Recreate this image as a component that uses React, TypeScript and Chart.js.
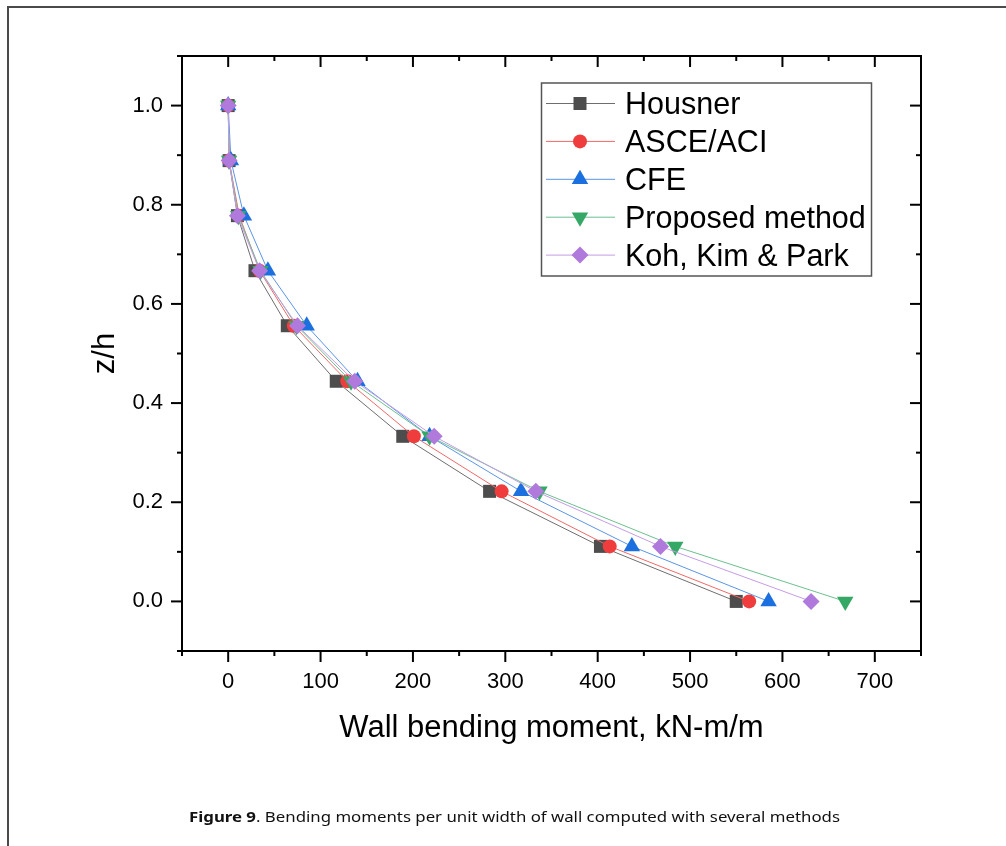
import React, { useEffect, useRef } from 'react';
import { Chart, registerables } from 'chart.js';

Chart.register(...registerables);

// ---- data ----
const zLevels = [1.0, 0.889, 0.778, 0.667, 0.556, 0.444, 0.333, 0.222, 0.111, 0.0];
const housner = [0, 1, 10, 29, 64, 117, 189, 283, 403, 550];
const asceAci = [0, 1, 12, 34, 71, 129, 201, 296, 413, 564];
const cfe = [0, 3, 17, 43, 85, 140, 218, 317, 437, 585];
const proposed = [0, 1, 11, 35, 74, 133, 218, 337, 484, 668];
const kohKimPark = [0, 1, 10, 34, 75, 137, 223, 333, 468, 631];

const seriesNames = ['Housner', 'ASCE/ACI', 'CFE', 'Proposed method', 'Koh, Kim & Park'];
const xTickLabels = ['0', '100', '200', '300', '400', '500', '600', '700'];
const yTickLabels = ['0.0', '0.2', '0.4', '0.6', '0.8', '1.0'];

const xTitle = 'Wall bending moment, kN-m/m';
const yTitle = 'z/h';

const FONT = "'Liberation Sans', Arial, Helvetica, sans-serif";

type Style = {
  pointColor: string;
  lineColor: string;
  pointStyle: string;
  radius: number;
  rotation: number;
};

const styles: Style[] = [
  { pointColor: '#4d4d4d', lineColor: '#6e6e6e', pointStyle: 'rect', radius: 9.2, rotation: 0 },
  { pointColor: '#ef3d3d', lineColor: '#f06868', pointStyle: 'circle', radius: 7, rotation: 0 },
  { pointColor: '#1b6fde', lineColor: '#5b94e6', pointStyle: 'triangle', radius: 9.5, rotation: 0 },
  { pointColor: '#36a866', lineColor: '#6cc08e', pointStyle: 'triangle', radius: 9.5, rotation: 180 },
  { pointColor: '#b079dc', lineColor: '#c59ce6', pointStyle: 'rectRot', radius: 8.5, rotation: 0 },
];

const seriesValues = [housner, asceAci, cfe, proposed, kohKimPark];

function drawMarker(ctx: CanvasRenderingContext2D, s: Style, x: number, y: number) {
  const r = s.radius;
  ctx.beginPath();
  if (s.pointStyle === 'rect') {
    const h = r * Math.SQRT1_2;
    ctx.rect(x - h, y - h, 2 * h, 2 * h);
  } else if (s.pointStyle === 'circle') {
    ctx.arc(x, y, r, 0, Math.PI * 2);
  } else if (s.pointStyle === 'triangle') {
    const rot = (s.rotation * Math.PI) / 180;
    for (let k = 0; k < 3; k++) {
      const a = rot - Math.PI / 2 + (k * 2 * Math.PI) / 3;
      const px = x + Math.cos(a) * r;
      const py = y + Math.sin(a) * r;
      if (k === 0) ctx.moveTo(px, py);
      else ctx.lineTo(px, py);
    }
  } else if (s.pointStyle === 'rectRot') {
    ctx.moveTo(x, y - r);
    ctx.lineTo(x + r, y);
    ctx.lineTo(x, y + r);
    ctx.lineTo(x - r, y);
  }
  ctx.closePath();
  ctx.fillStyle = s.pointColor;
  ctx.fill();
}

const framePlugin = {
  id: 'frameAndLegend',
  afterDraw(chart: any) {
    const ctx: CanvasRenderingContext2D = chart.ctx;
    const xs = chart.scales.x;
    const ys = chart.scales.y;
    const { left, right, top, bottom } = chart.chartArea;
    ctx.save();
    ctx.strokeStyle = '#000';
    ctx.lineWidth = 2;
    ctx.lineCap = 'butt';
    ctx.strokeRect(left, top, right - left, bottom - top);
    const line = (x1: number, y1: number, x2: number, y2: number) => {
      ctx.beginPath();
      ctx.moveTo(x1, y1);
      ctx.lineTo(x2, y2);
      ctx.stroke();
    };
    xs.ticks.forEach((t: any) => {
      const px = xs.getPixelForValue(t.value);
      const major = Math.round(t.value) % 100 === 0;
      const len = major ? 11 : 5;
      line(px, bottom, px, bottom + len);
      line(px, top, px, top + len);
    });
    ys.ticks.forEach((t: any) => {
      const py = ys.getPixelForValue(t.value);
      const major = Math.round(t.value * 10) % 2 === 0;
      const len = major ? 11 : 5;
      line(left, py, left - len, py);
      line(right, py, right - len, py);
    });

    // legend
    const bx = 541.5, by = 83, bw = 330, bh = 193;
    ctx.fillStyle = '#ffffff';
    ctx.fillRect(bx, by, bw, bh);
    ctx.strokeStyle = '#555555';
    ctx.lineWidth = 1.5;
    ctx.strokeRect(bx, by, bw, bh);
    const rowStart = 103.5;
    const rowGap = 37.9;
    ctx.font = `30.5px ${FONT}`;
    ctx.textAlign = 'left';
    ctx.textBaseline = 'alphabetic';
    seriesNames.forEach((name, i) => {
      const s = styles[i];
      const ry = rowStart + i * rowGap;
      ctx.strokeStyle = s.lineColor;
      ctx.lineWidth = 1;
      line(546, ry, 615, ry);
      drawMarker(ctx, s, 580, ry);
      ctx.fillStyle = '#000';
      ctx.fillText(name, 625, ry + 10.9);
    });
    ctx.restore();
  },
};

export default function App() {
  const ref = useRef<HTMLCanvasElement | null>(null);

  useEffect(() => {
    if (!ref.current) return;
    const datasets = seriesNames.map((name, i) => {
      const s = styles[i];
      return {
        label: name,
        data: seriesValues[i].map((v, k) => ({ x: v, y: zLevels[k] })),
        showLine: true,
        borderColor: s.lineColor,
        borderWidth: 1,
        backgroundColor: s.pointColor,
        pointBackgroundColor: s.pointColor,
        pointBorderWidth: 0,
        pointStyle: s.pointStyle,
        pointRadius: s.radius,
        pointRotation: s.rotation,
        order: seriesNames.length - i,
        tension: 0,
      };
    });

    const chart = new Chart(ref.current, {
      type: 'scatter',
      data: { datasets },
      options: {
        animation: false,
        responsive: false,
        devicePixelRatio: 1,
        events: [],
        layout: { padding: { left: 0, top: 56, right: 85, bottom: 0 } },
        plugins: {
          legend: { display: false },
          tooltip: { enabled: false },
          title: { display: false },
        },
        scales: {
          x: {
            type: 'linear',
            position: 'bottom',
            min: -50,
            max: 750,
            afterFit: (scale: any) => {
              scale.height = 195;
            },
            grid: { display: false, drawTicks: false },
            border: { display: false },
            ticks: {
              stepSize: 50,
              autoSkip: false,
              maxRotation: 0,
              padding: 18,
              color: '#000',
              font: { family: FONT, size: 22 },
              callback: (v: any) => {
                const n = Math.round(Number(v));
                const lbl = String(n);
                return n % 100 === 0 && xTickLabels.includes(lbl) ? lbl : '';
              },
            },
            title: {
              display: true,
              text: xTitle,
              color: '#000',
              font: { family: FONT, size: 31 },
              padding: { top: 0, bottom: 99 },
            },
          },
          y: {
            type: 'linear',
            position: 'left',
            min: -0.1,
            max: 1.1,
            afterFit: (scale: any) => {
              scale.width = 182;
            },
            grid: { display: false, drawTicks: false },
            border: { display: false },
            ticks: {
              stepSize: 0.1,
              autoSkip: false,
              padding: 19,
              color: '#000',
              font: { family: FONT, size: 22 },
              callback: (v: any) => {
                const r = Math.round(Number(v) * 10);
                const lbl = (r / 10).toFixed(1);
                return r % 2 === 0 && yTickLabels.includes(lbl) ? lbl : '';
              },
            },
            title: {
              display: true,
              text: yTitle,
              color: '#000',
              font: { family: FONT, size: 31 },
              padding: { top: 87, bottom: 0 },
            },
          },
        },
      },
      plugins: [framePlugin],
    } as any);

    return () => chart.destroy();
  }, []);

  return (
    <div
      style={{
        position: 'absolute',
        left: 0,
        top: 0,
        width: 1006,
        height: 846,
        overflow: 'hidden',
        background: '#fff',
      }}
    >
      <canvas ref={ref} width={1006} height={846} style={{ position: 'absolute', left: 0, top: 0, width: 1006, height: 846 }} />
      <div
        style={{
          position: 'absolute',
          left: 7,
          top: 6,
          width: 1100,
          height: 900,
          borderLeft: '2px solid #4a4a4a',
          borderTop: '2px solid #4a4a4a',
          pointerEvents: 'none',
        }}
      />
      <div
        style={{
          position: 'absolute',
          left: 0,
          top: 806,
          width: 1029,
          textAlign: 'center',
          fontFamily: "'Noto Sans', sans-serif",
          fontSize: 15,
          lineHeight: '20px',
          color: '#111',
          whiteSpace: 'nowrap',
          transform: 'scaleX(1.12)',
          transformOrigin: '514.5px 50%',
        }}
      >
        <b>Figure 9</b>. Bending moments per unit width of wall computed with several methods
      </div>
    </div>
  );
}
